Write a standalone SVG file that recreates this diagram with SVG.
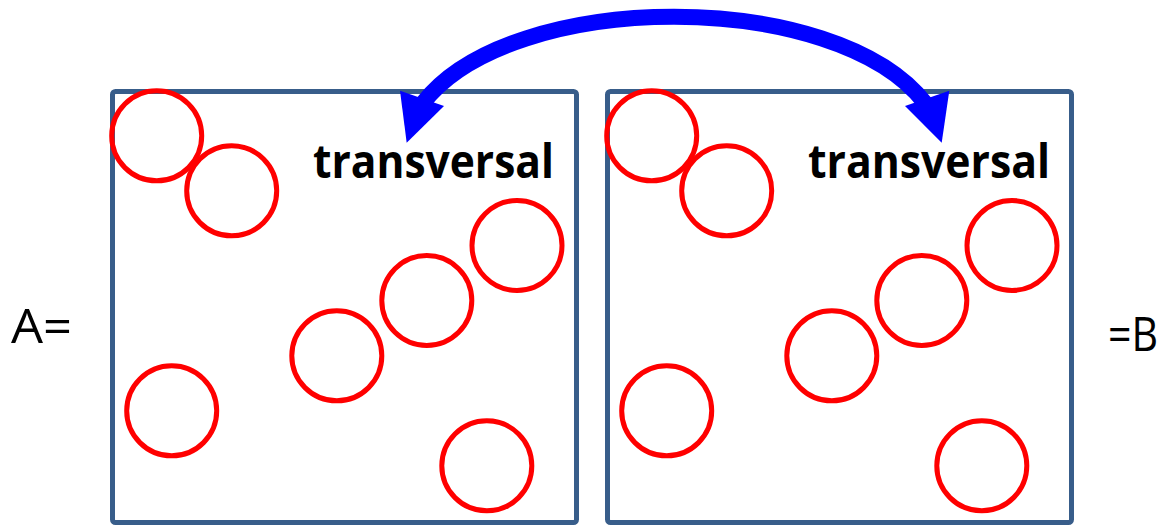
<svg xmlns="http://www.w3.org/2000/svg" width="1166" height="525" viewBox="0 0 1166 525">
  <style>
    .box { fill: none; stroke: #385D8A; stroke-width: 5; }
    .ball { fill: none; stroke: #FF0000; stroke-width: 5; }
    .lbl { font-family: "Open Sans", "Noto Sans", "Liberation Sans", sans-serif; font-weight: 700; font-size: 46px; fill: #000; }
    .side { font-family: "Open Sans", "Noto Sans", "Liberation Sans", sans-serif; font-weight: 400; font-size: 48px; fill: #000; }
    .shaft { fill: none; stroke: #0000FF; stroke-width: 16; }
    .head { fill: #0000FF; }
  </style>
  <rect width="1166" height="525" fill="#FFFFFF"/>

  <g id="boxA">
    <rect class="box" x="112.5" y="91.5" width="464" height="431" rx="3"/>
    <text class="lbl" x="313" y="177.5" textLength="241" lengthAdjust="spacingAndGlyphs">transversal</text>
    <circle class="ball" cx="156.7" cy="135.8" r="45"/>
    <circle class="ball" cx="231.7" cy="190.8" r="45"/>
    <circle class="ball" cx="517" cy="245.5" r="45"/>
    <circle class="ball" cx="426.8" cy="300.5" r="45"/>
    <circle class="ball" cx="336.8" cy="355.8" r="45"/>
    <circle class="ball" cx="171.7" cy="410.8" r="45"/>
    <circle class="ball" cx="486.8" cy="465.8" r="45"/>
  </g>

  <g id="boxB">
    <rect class="box" x="607.5" y="91.5" width="464" height="431" rx="3"/>
    <text class="lbl" x="808" y="177.5" textLength="242" lengthAdjust="spacingAndGlyphs">transversal</text>
    <circle class="ball" cx="651.7" cy="135.8" r="45"/>
    <circle class="ball" cx="726.7" cy="190.8" r="45"/>
    <circle class="ball" cx="1012" cy="245.5" r="45"/>
    <circle class="ball" cx="921.8" cy="300.5" r="45"/>
    <circle class="ball" cx="831.8" cy="355.8" r="45"/>
    <circle class="ball" cx="666.7" cy="410.8" r="45"/>
    <circle class="ball" cx="981.8" cy="465.8" r="45"/>
  </g>

  <g id="labelA">
    <text class="side" x="11" y="343" textLength="61" lengthAdjust="spacingAndGlyphs">A=</text>
  </g>
  <g id="labelB">
    <text class="side" x="1108" y="351" textLength="50" lengthAdjust="spacingAndGlyphs">=B</text>
  </g>

  <g id="connectors">
    <path class="shaft" d="M 423 103 C 512 -12 836 -12 925 103"/>
    <polygon class="head" points="400,90.7 406.7,142.7 444,106"/>
    <polygon class="head" points="949.3,90.7 941.7,142.7 905,106"/>
  </g>
</svg>
